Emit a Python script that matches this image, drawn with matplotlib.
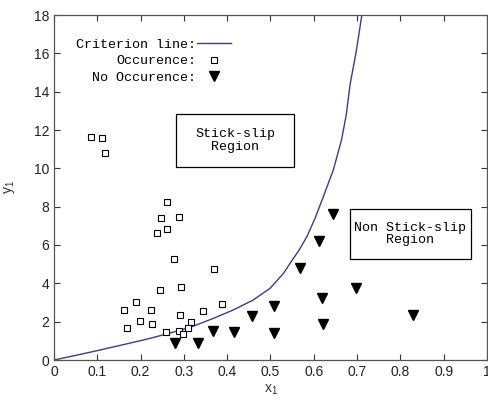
import numpy as np
import matplotlib.pyplot as plt
from matplotlib.patches import Rectangle

# criterion line, points
crit_x = [0, 0.05, 0.106, 0.16, 0.222, 0.27, 0.314, 0.368, 0.414, 0.460, 0.499, 0.530, 0.545,
          0.565, 0.584, 0.603, 0.622, 0.645, 0.664, 0.675, 0.684, 0.698, 0.711, 0.716]
crit_y = [0, 0.24, 0.52, 0.80, 1.13, 1.42, 1.70, 2.17, 2.61, 3.13, 3.74, 4.52, 5.04,
          5.70, 6.43, 7.40, 8.52, 9.91, 11.48, 12.8, 14.4, 16.1, 18.0, 19.0]

# stick-slip occurence
occ_x = [0.085, 0.112, 0.118, 0.262, 0.248, 0.289, 0.239, 0.262, 0.276, 0.370, 0.245, 0.294,
         0.190, 0.161, 0.225, 0.345, 0.387, 0.292, 0.169, 0.199, 0.227, 0.316, 0.310, 0.258,
         0.289, 0.299]
occ_y = [11.62, 11.56, 10.78, 8.26, 7.42, 7.46, 6.64, 6.83, 5.25, 4.73, 3.67, 3.79,
         3.04, 2.62, 2.62, 2.57, 2.94, 2.33, 1.69, 2.04, 1.89, 2.0, 1.67, 1.48,
         1.52, 1.38]

# no occurence
no_x = [0.279, 0.332, 0.368, 0.416, 0.457, 0.507, 0.507, 0.567, 0.613, 0.645, 0.620, 0.622, 0.697, 0.828]
no_y = [0.90, 0.90, 1.53, 1.48, 2.30, 2.82, 1.39, 4.82, 6.22, 7.62, 3.25, 1.88, 3.77, 2.35]

xticks = np.round(np.arange(0, 1.01, 0.1), 1)
yticks = np.arange(0, 19, 2)

mono = 'Liberation Mono'
fig = plt.figure(figsize=(4.89, 4.0), dpi=100)
ax = fig.add_axes([54 / 489, 40 / 400, 433 / 489, 345 / 400])

ax.plot(crit_x, crit_y, color='#3b3b8f', lw=1.0, label='Criterion line:')
ax.plot(occ_x, occ_y, 's', ms=4.6, mfc='white', mec='black', mew=0.8, label='Occurence:')
ax.plot(no_x, no_y, 'v', ms=6.8, color='black', label='No Occurence:')

ax.set_xlim(0, 1)
ax.set_ylim(0, 18)
ax.set_xticks(xticks)
ax.set_xticklabels([('%g' % t) for t in xticks])
ax.set_yticks(yticks)
ax.tick_params(direction='in', length=4, width=0.8, top=True, right=True,
               labelsize=10, colors='#333333', labelcolor='#222222')
for lab in ax.get_xticklabels() + ax.get_yticklabels():
    lab.set_family('Liberation Sans')
for s in ax.spines.values():
    s.set_color('#555555')
    s.set_linewidth(0.9)

ax.set_xlabel(r'$\mathregular{x_1}$', fontsize=10, family='Liberation Sans', color='#333333', labelpad=3)
ax.set_ylabel(r'$\mathregular{y_1}$', fontsize=10, family='Liberation Sans', color='#333333', labelpad=12)

leg = ax.legend(loc='upper left', bbox_to_anchor=(0.026, 0.962), frameon=False,
                markerfirst=False, handlelength=2.5, handletextpad=0.1,
                labelspacing=0.3, borderpad=0.3, prop={'family': mono, 'size': 9.6})

# region boxes
ax.add_patch(Rectangle((0.282, 10.07), 0.272, 2.76, fill=False, ec='black', lw=0.9))
ax.text(0.418, 11.45, 'Stick-slip\nRegion', ha='center', va='center', family=mono,
        fontsize=9.6, linespacing=1.05)
ax.add_patch(Rectangle((0.684, 5.25), 0.279, 2.61, fill=False, ec='black', lw=0.9))
ax.text(0.823, 6.56, 'Non Stick-slip\nRegion', ha='center', va='center', family=mono,
        fontsize=9.6, linespacing=1.05)

fig.savefig('out.png', dpi=100)
